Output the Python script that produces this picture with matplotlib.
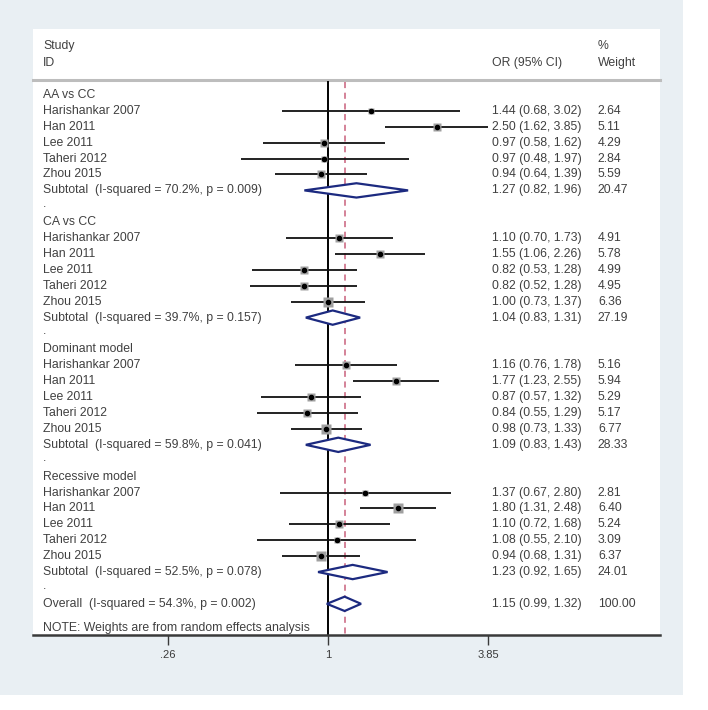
import numpy as np
import matplotlib
matplotlib.use("Agg")
import matplotlib.pyplot as plt
from matplotlib.patches import Rectangle, Polygon
import matplotlib.transforms as mtransforms

plt.rcParams['font.family'] = ['Liberation Sans', 'DejaVu Sans']

# ---- data ----
groups = ["AA vs CC", "CA vs CC", "Dominant model", "Recessive model"]
studies = ["Harishankar 2007", "Han 2011", "Lee 2011", "Taheri 2012", "Zhou 2015"]

or_vals = [[1.44, 2.50, 0.97, 0.97, 0.94],
           [1.10, 1.55, 0.82, 0.82, 1.00],
           [1.16, 1.77, 0.87, 0.84, 0.98],
           [1.37, 1.80, 1.10, 1.08, 0.94]]
ci_low = [[0.68, 1.62, 0.58, 0.48, 0.64],
          [0.70, 1.06, 0.53, 0.52, 0.73],
          [0.76, 1.23, 0.57, 0.55, 0.73],
          [0.67, 1.31, 0.72, 0.55, 0.68]]
ci_high = [[3.02, 3.85, 1.62, 1.97, 1.39],
           [1.73, 2.26, 1.28, 1.28, 1.37],
           [1.78, 2.55, 1.32, 1.29, 1.33],
           [2.80, 2.48, 1.68, 2.10, 1.31]]
weights = [[2.64, 5.11, 4.29, 2.84, 5.59],
           [4.91, 5.78, 4.99, 4.95, 6.36],
           [5.16, 5.94, 5.29, 5.17, 6.77],
           [2.81, 6.40, 5.24, 3.09, 6.37]]

sub_or = [1.27, 1.04, 1.09, 1.23]
sub_low = [0.82, 0.83, 0.83, 0.92]
sub_high = [1.96, 1.31, 1.43, 1.65]
sub_w = [20.47, 27.19, 28.33, 24.01]
sub_i2 = [70.2, 39.7, 59.8, 52.5]
sub_p = [0.009, 0.157, 0.041, 0.078]

overall_or, overall_low, overall_high = 1.15, 0.99, 1.32
overall_i2, overall_p = 54.3, 0.002

tick_vals = [0.26, 1, 3.85]
tick_labels = [".26", "1", "3.85"]

# ---- figure ----
fig = plt.figure(figsize=(7.08, 7.10), dpi=100)
fig.patch.set_facecolor('white')
bg = Rectangle((0, 1 - 695 / 710), 683 / 708, 695 / 710,
               transform=fig.transFigure, facecolor='#e9eff3',
               edgecolor='none', zorder=-10)
fig.add_artist(bg)

ax = fig.add_axes([33 / 708, 1 - 635 / 710, 627 / 708, 606 / 710])
ax.set_zorder(1)
ax.set_facecolor('white')
ax.set_xscale('log')
# 1 sits at x=328 px, about 119 px per ln unit
ax.set_xlim(np.exp(-295 / 119), np.exp(332 / 119))
ax.set_ylim(33.96, -4.15)

for s in ['top', 'left', 'right']:
    ax.spines[s].set_visible(False)
ax.spines['bottom'].set_color('#3a3a3a')
ax.spines['bottom'].set_linewidth(1.8)
ax.set_yticks([])
ax.set_xticks(tick_vals)
ax.set_xticklabels(tick_labels)
ax.xaxis.set_minor_locator(matplotlib.ticker.NullLocator())
ax.tick_params(axis='x', direction='out', length=7, width=1.0, color='#3a3a3a',
               labelsize=8, labelcolor='#3a3a3a', pad=4)

tr = mtransforms.blended_transform_factory(ax.transAxes, ax.transData)
txt = dict(fontsize=8.8, color='#404040', va='center', transform=tr)
x_lab, x_or, x_w = 0.016, 0.732, 0.901

# header
ax.text(x_lab, -3.08, "Study", **txt)
ax.text(x_lab, -2.01, "ID", **txt)
ax.text(x_or, -2.01, "OR (95% CI)", **txt)
ax.text(x_w, -3.08, "%", **txt)
ax.text(x_w, -2.01, "Weight", **txt)
ax.plot([0, 1], [-0.94, -0.94], transform=tr, color='#bdbdbd', lw=2.2, clip_on=False)

# reference lines
ax.plot([1, 1], [-0.82, 33.96], color='black', lw=1.4, zorder=2)
ax.plot([overall_or, overall_or], [-0.82, 33.96], color='#c9607c', lw=1.1,
        ls=(0, (4, 3)), zorder=2)


def diamond(y, est, lo, hi):
    h = 0.45
    poly = Polygon([[lo, y], [est, y - h], [hi, y], [est, y + h]], closed=True,
                   facecolor='white', edgecolor='#1c2a80', lw=1.6, zorder=4)
    ax.add_patch(poly)


row = 0
for g in range(len(groups)):
    ax.text(x_lab, row, groups[g], **txt)
    row += 1
    for i in range(len(studies)):
        ax.text(x_lab, row, studies[i], **txt)
        ax.plot([ci_low[g][i], ci_high[g][i]], [row, row], color='#111111',
                lw=1.3, zorder=3, solid_capstyle='butt')
        ax.plot(or_vals[g][i], row, marker='s', ms=2.6 * np.sqrt(weights[g][i]),
                mfc='#a0a0a0', mec='none', zorder=4)
        ax.plot(or_vals[g][i], row, marker='o', ms=3, color='black', zorder=5)
        ax.text(x_or, row, "%.2f (%.2f, %.2f)" % (or_vals[g][i], ci_low[g][i], ci_high[g][i]), **txt)
        ax.text(x_w, row, "%.2f" % weights[g][i], **txt)
        row += 1
    ax.text(x_lab, row, "Subtotal  (I-squared = %.1f%%, p = %.3f)" % (sub_i2[g], sub_p[g]), **txt)
    diamond(row, sub_or[g], sub_low[g], sub_high[g])
    ax.text(x_or, row, "%.2f (%.2f, %.2f)" % (sub_or[g], sub_low[g], sub_high[g]), **txt)
    ax.text(x_w, row, "%.2f" % sub_w[g], **txt)
    row += 1
    ax.text(x_lab, row - 0.15, ".", **txt)
    row += 1

ax.text(x_lab, row, "Overall  (I-squared = %.1f%%, p = %.3f)" % (overall_i2, overall_p), **txt)
diamond(row, overall_or, overall_low, overall_high)
ax.text(x_or, row, "%.2f (%.2f, %.2f)" % (overall_or, overall_low, overall_high), **txt)
ax.text(x_w, row, "%.2f" % 100.00, **txt)
ax.text(x_lab, row + 1.5, "NOTE: Weights are from random effects analysis", **txt)

fig.savefig("out.png", dpi=100, facecolor=fig.get_facecolor())
